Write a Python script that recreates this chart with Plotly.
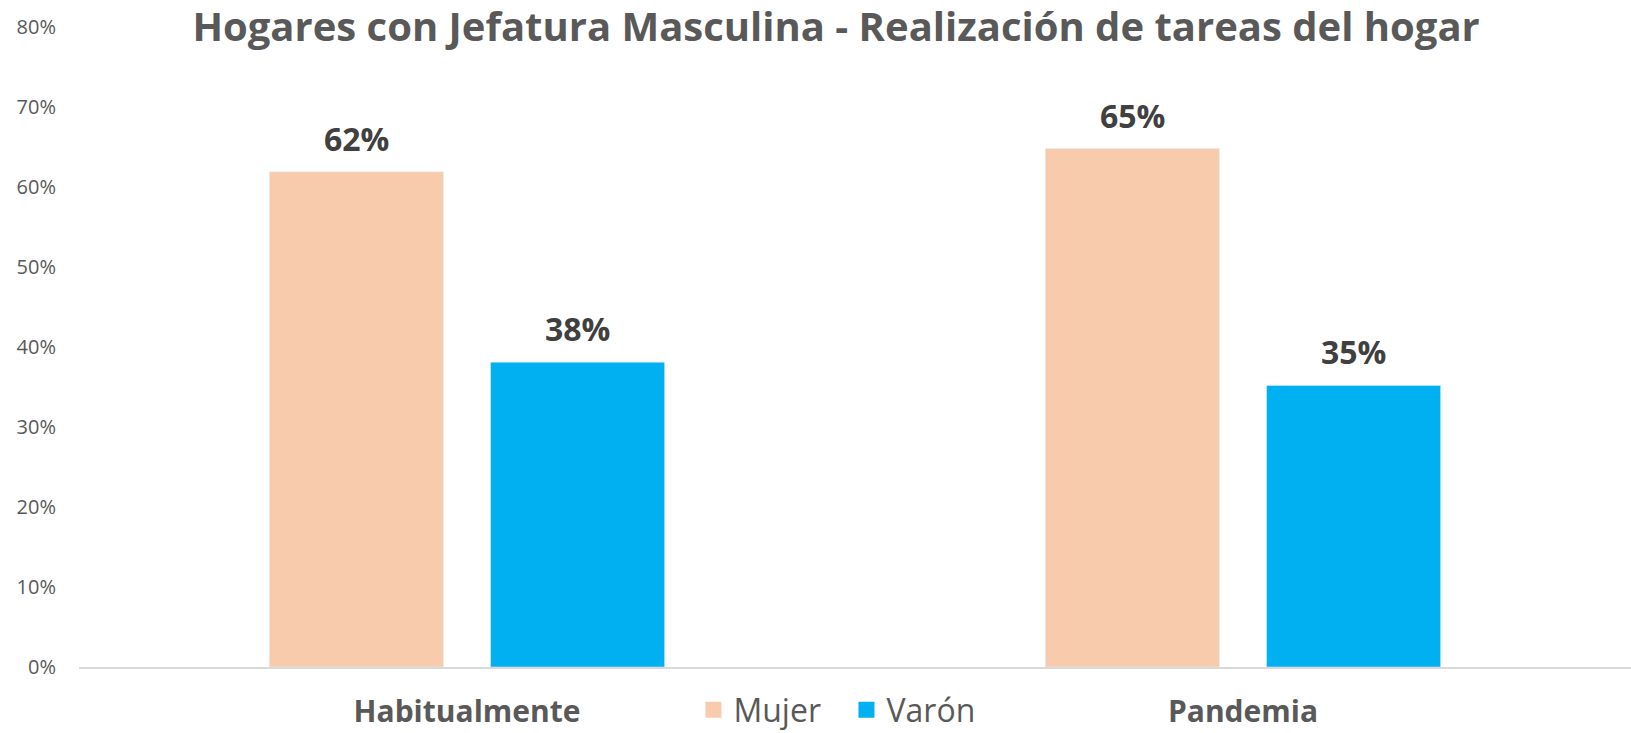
import plotly.graph_objects as go

categories = ["Habitualmente", "Pandemia"]
mujer = [0.619, 0.648]
varon = [0.381, 0.352]
mujer_labels = ["62%", "65%"]
varon_labels = ["38%", "35%"]
tick_vals = [0, 0.1, 0.2, 0.3, 0.4, 0.5, 0.6, 0.7, 0.8]
tick_text = ["0%", "10%", "20%", "30%", "40%", "50%", "60%", "70%", "80%"]

FONT = "Open Sans"
GREY = "#595959"
DARK = "#404040"
C_MUJER = "#F8CBAD"
C_VARON = "#00B0F0"

W, H = 1631, 733
ML, MR, MT, MB = 79, 0, 27, 66
BARGAP = 0.43
BARGROUPGAP = 0.213

fig = go.Figure()
fig.add_trace(go.Bar(name="Mujer", x=categories, y=mujer, marker_color=C_MUJER,
                     legendgroup="m", showlegend=False))
fig.add_trace(go.Bar(name="Varón", x=categories, y=varon, marker_color=C_VARON,
                     legendgroup="v", showlegend=False))
# legend entries (square swatches)
fig.add_trace(go.Scatter(name="Mujer", x=[None], y=[None], mode="markers",
                         marker=dict(symbol="square", size=16, color=C_MUJER),
                         legendgroup="m"))
fig.add_trace(go.Scatter(name="Varón", x=[None], y=[None], mode="markers",
                         marker=dict(symbol="square", size=16, color=C_VARON),
                         legendgroup="v"))

# data labels above each bar, offset to the grouped-bar slot centres
cat_px = (W - ML - MR) / len(categories)
slot_offset = cat_px * (1 - BARGAP) / 4
for series, labels, sign in ((mujer, mujer_labels, -1), (varon, varon_labels, 1)):
    for cat, val, lab in zip(categories, series, labels):
        fig.add_annotation(
            x=cat, y=val, text=f"<b>{lab}</b>", showarrow=False,
            xanchor="center", yanchor="bottom", xshift=sign * slot_offset, yshift=10,
            font=dict(family=FONT, size=32, color=DARK),
        )

fig.update_layout(
    width=W, height=H,
    margin=dict(l=ML, r=MR, t=MT, b=MB, autoexpand=False),
    paper_bgcolor="white", plot_bgcolor="white",
    barmode="group", bargap=BARGAP, bargroupgap=BARGROUPGAP,
    title=dict(
        text="<b>Hogares con Jefatura Masculina - Realización de tareas del hogar</b>",
        x=0.5126, xanchor="center", xref="container",
        y=0.963, yanchor="middle", yref="container",
        font=dict(family=FONT, size=40, color=GREY),
    ),
    font=dict(family=FONT, color=GREY),
    legend=dict(
        orientation="h", x=0.4945, xanchor="center", y=-0.067, yanchor="middle",
        font=dict(family=FONT, size=32, color=GREY),
        entrywidth=108, entrywidthmode="pixels",
        bgcolor="rgba(0,0,0,0)",
    ),
    showlegend=True,
)
fig.update_xaxes(
    showline=True, linecolor="#D9D9D9", linewidth=2,
    showgrid=False, ticks="", automargin=False,
    tickfont=dict(family=FONT, size=30, color=GREY, weight="bold"),
    ticklabelstandoff=17,
)
fig.update_yaxes(
    range=[0, 0.8], tickvals=tick_vals, ticktext=tick_text,
    showgrid=False, zeroline=False, showline=False, ticks="", automargin=False,
    tickfont=dict(family=FONT, size=20, color=GREY),
    ticklabelstandoff=22,
)

fig.write_html(
    "out.html",
    config={"displayModeBar": False},
    post_script="document.body.style.margin='0px';document.body.style.overflow='hidden';",
)
